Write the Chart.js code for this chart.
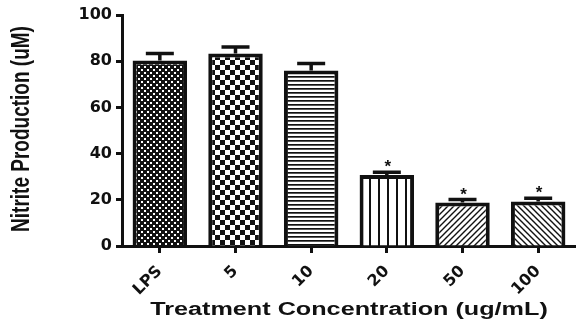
<!DOCTYPE html>
<html>
<head>
<meta charset="utf-8">
<script src="https://cdn.jsdelivr.net/npm/chart.js@4/dist/chart.umd.min.js"></script>
<style>
  html, body { margin: 0; padding: 0; background: #fff; }
  #wrap { width: 576px; height: 323px; position: relative; }
</style>
</head>
<body>
<div id="wrap"><canvas id="chart"></canvas></div>
<script>
// Nitrite production per treatment group (mean and SEM, uM)
const categories = ['LPS', '5', '10', '20', '50', '100'];
const nitrite = [80.3, 83.3, 76.0, 30.7, 18.8, 19.3];
const sem = [3.0, 2.8, 3.0, 1.2, 1.3, 1.4];
const significance = ['', '', '', '*', '*', '*'];
const yTicks = [0, 20, 40, 60, 80, 100];

const INK = '#111';

// Small tiles used as fill patterns, one per bar
function makePattern(w, h, paint) {
  const c = document.createElement('canvas');
  c.width = w; c.height = h;
  const g = c.getContext('2d');
  g.fillStyle = '#fff';
  g.fillRect(0, 0, w, h);
  g.fillStyle = INK;
  g.strokeStyle = INK;
  paint(g, w, h);
  return document.createElement('canvas').getContext('2d').createPattern(c, 'repeat');
}

const patterns = [
  // fine dotted grid: dark ground with small light dots
  makePattern(6, 6, (g) => {
    g.fillRect(0, 0, 6, 6);
    g.fillStyle = '#fff';
    g.fillRect(0, 0, 2, 2);
    g.fillRect(3, 3, 2, 2);
  }),
  // coarse checkerboard
  makePattern(10, 10, (g) => { g.fillRect(0, 0, 5, 5); g.fillRect(5, 5, 5, 5); }),
  // horizontal stripes
  makePattern(4, 4, (g) => { g.fillRect(0, 0, 4, 1.7); }),
  // vertical stripes
  makePattern(9, 9, (g) => { g.fillRect(0, 0, 2, 9); }),
  // forward diagonal hatching
  makePattern(6, 6, (g) => {
    g.lineWidth = 1.4;
    g.beginPath();
    g.moveTo(-1, 7); g.lineTo(7, -1);
    g.moveTo(-1, 1); g.lineTo(1, -1);
    g.moveTo(5, 7); g.lineTo(7, 5);
    g.stroke();
  }),
  // backward diagonal hatching
  makePattern(6, 6, (g) => {
    g.lineWidth = 1.4;
    g.beginPath();
    g.moveTo(-1, -1); g.lineTo(7, 7);
    g.moveTo(5, -1); g.lineTo(7, 1);
    g.moveTo(-1, 5); g.lineTo(1, 7);
    g.stroke();
  })
];

// Upper error whiskers with caps, plus significance marks
const errorBars = {
  id: 'errorBars',
  afterDatasetsDraw(chart) {
    const ctx = chart.ctx;
    const meta = chart.getDatasetMeta(0);
    const yScale = chart.scales.y;
    ctx.save();
    ctx.strokeStyle = INK;
    ctx.fillStyle = INK;
    ctx.lineWidth = 3.5;
    meta.data.forEach((bar, i) => {
      const yTop = yScale.getPixelForValue(nitrite[i]);
      const yErr = yScale.getPixelForValue(nitrite[i] + sem[i]);
      ctx.beginPath();
      ctx.moveTo(bar.x, yTop);
      ctx.lineTo(bar.x, yErr);
      ctx.moveTo(bar.x - 14, yErr);
      ctx.lineTo(bar.x + 14, yErr);
      ctx.stroke();
      if (significance[i]) {
        ctx.font = 'bold 17px "Liberation Sans", Arial, sans-serif';
        ctx.textAlign = 'center';
        ctx.textBaseline = 'alphabetic';
        ctx.fillText(significance[i], bar.x + 1, yErr);
      }
    });
    ctx.restore();
  }
};

// Axis titles, drawn with a wide glyph stretch
const axisTitles = {
  id: 'axisTitles',
  afterDraw(chart) {
    const ctx = chart.ctx;
    const area = chart.chartArea;
    ctx.save();
    ctx.fillStyle = INK;
    ctx.font = 'bold 18px "Liberation Sans", Arial, sans-serif';
    ctx.textAlign = 'center';
    ctx.textBaseline = 'alphabetic';
    ctx.translate((area.left + area.right) / 2, 315);
    ctx.scale(1.4, 1);
    ctx.fillText('Treatment Concentration (ug/mL)', 0, 0);
    ctx.restore();

    ctx.save();
    ctx.fillStyle = INK;
    ctx.font = 'bold 19px "Liberation Sans", Arial, sans-serif';
    ctx.textAlign = 'center';
    ctx.textBaseline = 'middle';
    ctx.translate(22, 129);
    ctx.rotate(-Math.PI / 2);
    ctx.scale(1, 1.4);
    ctx.fillText('Nitrite Production (uM)', 0, 0);
    ctx.restore();
  }
};

new Chart(document.getElementById('chart'), {
  type: 'bar',
  data: {
    labels: categories,
    datasets: [{
      data: nitrite,
      backgroundColor: patterns,
      borderColor: INK,
      borderWidth: 4,
      borderSkipped: 'start',
      categoryPercentage: 1.0,
      barPercentage: 0.72
    }]
  },
  options: {
    responsive: true,
    maintainAspectRatio: false,
    animation: false,
    layout: { padding: { top: 15, right: -3, left: 0, bottom: 0 } },
    plugins: {
      legend: { display: false },
      tooltip: { enabled: false }
    },
    scales: {
      x: {
        offset: true,
        grid: {
          display: true,
          offset: false,
          drawOnChartArea: false,
          drawTicks: true,
          tickLength: 7,
          tickWidth: 3,
          tickColor: INK
        },
        border: { display: true, color: INK, width: 3 },
        ticks: {
          color: INK,
          font: { family: '"DejaVu Sans", sans-serif', size: 16, weight: 'bold' },
          minRotation: 45,
          maxRotation: 45,
          padding: 9
        },
        afterFit(scale) { scale.height = 77; }
      },
      y: {
        min: 0,
        max: 100,
        afterBuildTicks(scale) { scale.ticks = yTicks.map(v => ({ value: v })); },
        grid: {
          display: true,
          drawOnChartArea: false,
          drawTicks: true,
          tickLength: 6,
          tickWidth: 3,
          tickColor: INK
        },
        border: { display: true, color: INK, width: 3 },
        ticks: {
          color: INK,
          font: { family: '"DejaVu Sans", sans-serif', size: 16, weight: 'bold' },
          padding: 4
        },
        afterFit(scale) { scale.width = 122; }
      }
    }
  },
  plugins: [errorBars, axisTitles]
});
</script>
</body>
</html>
